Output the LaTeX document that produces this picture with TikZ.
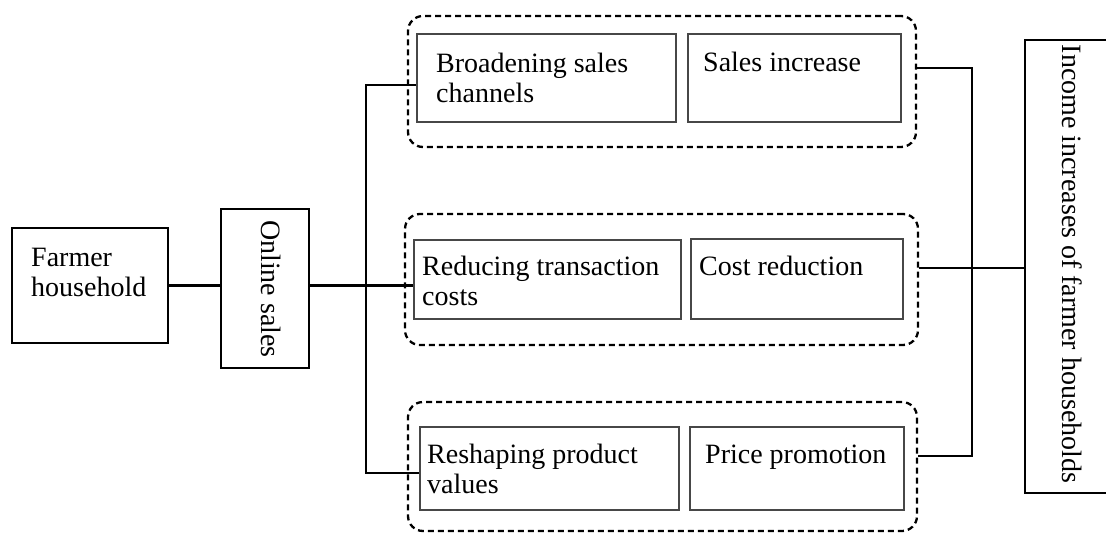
\documentclass[tikz,border=0pt]{standalone}
\usepackage{fontspec}
\setmainfont{Liberation Serif}
\usetikzlibrary{fit}
\begin{document}
\begin{tikzpicture}[x=1pt,y=-1pt,
  obox/.style={draw=black, line width=2.4pt, inner sep=0pt},
  ibox/.style={draw=black!72, line width=1.6pt, inner sep=0pt},
  grp/.style={draw=black, line width=2.3pt, dash pattern=on 6pt off 4pt, rounded corners=15pt, inner sep=0pt},
  conn/.style={draw=black, line width=2.4pt},
  txt/.style={font=\fontsize{28}{30}\selectfont, inner sep=0pt, align=left, anchor=north west},
  vtxt/.style={font=\fontsize{28}{30}\selectfont, inner sep=0pt, rotate=-90, anchor=base}]
\useasboundingbox (0,0) rectangle (1106,533);
% left boxes
\node[obox, fit={(12,228)(168,343)}] (F) {};
\node[txt] (Ft) at (31,246) {\rule{0pt}{20pt}Farmer\\household};
\node[obox, fit={(221,209)(309,368)}] (O) {};
\node[vtxt] (Ot) at (261,289) {Online sales};
% groups
\node[grp, fit={(408,16)(916,147)}] (D1) {};
\node[grp, fit={(405,214)(918,345)}] (D2) {};
\node[grp, fit={(408,402)(917,531)}] (D3) {};
% inner boxes
\node[ibox, fit={(417,34)(676,122)}] (B1) {};
\node[ibox, fit={(688,34)(901,122)}] (S1) {};
\node[ibox, fit={(414,240)(681,319)}] (R2) {};
\node[ibox, fit={(691,239)(903,319)}] (C2) {};
\node[ibox, fit={(420,427)(679,510)}] (R3) {};
\node[ibox, fit={(690,427)(904,510)}] (P3) {};
\node[txt] (B1t) at (436,52) {\rule{0pt}{20pt}Broadening sales\\channels};
\node[txt] (S1t) at (703,51) {\rule{0pt}{20pt}Sales increase};
\node[txt] (R2t) at (422,255) {\rule{0pt}{20pt}Reducing transaction\\costs};
\node[txt] (C2t) at (699,255) {\rule{0pt}{20pt}Cost reduction};
\node[txt] (R3t) at (427,443) {\rule{0pt}{20pt}Reshaping product\\values};
\node[txt] (P3t) at (705,443) {\rule{0pt}{20pt}Price promotion};
% income box
\node[obox, fit={(1025,40)(1118,493)}] (I) {};
\node[vtxt] (It) at (1062,264) {Income increases of farmer households};
% connectors
\draw[conn] (F.east) -- (F.east -| O.west);
\draw[conn] (O.east |- F.east) -- (R2.west |- F.east);
\coordinate (jt) at (366,85);
\coordinate (jb) at (366,473);
\draw[conn] (B1.west |- jt) -- (jt) -- (jb) -- (R3.west |- jb);
\coordinate (kt) at (972,68);
\coordinate (kb) at (972,456);
\coordinate (km) at (972,268);
\draw[conn] (D1.east |- kt) -- (kt) -- (kb) -- (D3.east |- kb);
\draw[conn] (D2.east |- km) -- (I.west |- km);
\end{tikzpicture}
\end{document}
